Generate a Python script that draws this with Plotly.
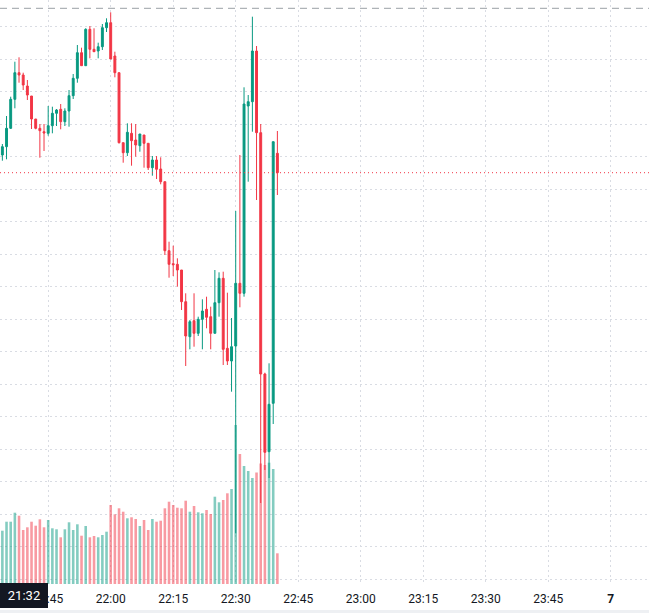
import plotly.graph_objects as go
import pandas as pd

# ---- data (1-minute candles) ----
start_time = "2025-03-06 21:34"
open_ = [94.50, 95.33, 97.17, 100.07, 102.73, 102.50, 101.40, 100.40, 98.10, 97.17,
         96.83, 96.67, 97.43, 98.67, 99.07, 97.83, 98.90, 100.43, 102.17, 104.73,
         103.43, 107.07, 105.07, 104.90, 105.33, 107.23, 107.73, 104.40, 102.73, 95.73,
         94.73, 96.67, 96.00, 95.43, 96.50, 95.67, 93.23, 94.00, 93.10, 91.83,
         84.93, 83.63, 83.57, 83.00, 79.83, 76.33, 77.93, 76.67, 78.07, 79.07,
         78.33, 76.67, 79.73, 82.17, 75.17, 73.90, 75.40, 81.67, 80.67, 99.40,
         99.83, 104.90, 96.73, 72.60, 64.83, 69.67, 94.67]
high = [95.60, 98.40, 100.33, 103.83, 104.27, 102.73, 102.00, 100.40, 98.10, 97.60,
        97.60, 99.40, 99.33, 99.10, 99.60, 99.17, 101.00, 102.60, 105.50, 105.23,
        107.17, 107.40, 107.17, 105.73, 107.60, 108.17, 108.77, 104.83, 102.73, 95.73,
        97.67, 97.67, 97.60, 96.60, 96.50, 95.67, 94.40, 94.40, 94.27, 91.83,
        85.83, 85.43, 84.17, 83.00, 80.67, 78.00, 80.67, 78.33, 80.07, 80.33,
        79.33, 83.00, 82.77, 82.83, 80.73, 78.20, 88.90, 94.50, 101.27, 100.50,
        108.33, 105.40, 97.60, 72.73, 73.67, 95.83, 96.90]
low = [93.93, 94.07, 97.10, 99.17, 101.73, 101.00, 100.00, 97.10, 97.07, 94.23,
       94.90, 96.43, 96.67, 97.40, 97.07, 97.40, 97.33, 100.10, 101.73, 103.43,
       103.40, 104.17, 104.80, 104.17, 105.00, 106.80, 104.10, 102.27, 95.65, 93.73,
       94.40, 93.43, 94.33, 94.83, 93.23, 93.00, 92.43, 92.10, 91.57, 84.50,
       82.23, 82.40, 81.33, 79.00, 73.40, 75.07, 75.33, 76.40, 75.07, 77.17,
       75.07, 76.67, 78.33, 73.50, 73.50, 70.83, 56.67, 79.27, 80.33, 91.83,
       96.83, 90.00, 59.70, 63.00, 62.20, 67.60, 90.50]
close = [95.33, 97.17, 100.07, 102.73, 102.50, 101.50, 100.50, 98.10, 97.17, 96.93,
         96.70, 97.43, 98.67, 99.00, 97.83, 98.90, 100.43, 102.17, 104.73, 103.43,
         107.07, 105.07, 104.83, 105.33, 107.23, 107.73, 104.10, 102.73, 95.73, 94.73,
         96.77, 95.93, 95.50, 96.60, 95.67, 93.23, 94.00, 93.07, 91.83, 84.93,
         83.57, 83.53, 83.00, 79.83, 76.40, 77.83, 76.67, 78.07, 78.90, 78.27,
         76.67, 79.73, 82.17, 75.07, 73.90, 75.33, 81.67, 80.67, 99.60, 99.83,
         104.90, 96.73, 72.60, 64.77, 69.57, 95.83, 92.73]
volume = [53.3, 62.3, 62.3, 71.3, 68.3, 54.0, 56.7, 62.3, 58.3, 64.7,
          56.7, 64.0, 55.7, 54.7, 46.7, 54.7, 61.7, 54.0, 59.7, 48.3,
          58.0, 46.7, 48.0, 46.7, 49.0, 52.3, 79.0, 69.7, 75.7, 72.3,
          65.7, 66.7, 65.0, 58.0, 64.0, 54.0, 65.0, 62.3, 63.3, 75.7,
          82.3, 79.0, 76.3, 75.7, 83.3, 72.3, 78.0, 71.7, 70.7, 74.0,
          70.0, 87.3, 81.7, 84.0, 90.7, 95.0, 159.0, 130.0, 118.0, 113.0,
          106.0, 111.5, 120.5, 119.0, 121.3, 115.0, 30.7]
ref_level = 109.17

tick_vals = ["2025-03-06 21:45", "2025-03-06 22:00", "2025-03-06 22:15", "2025-03-06 22:30",
             "2025-03-06 22:45", "2025-03-06 23:00", "2025-03-06 23:15", "2025-03-06 23:30",
             "2025-03-06 23:45", "2025-03-07 00:00"]
tick_text = ["21:45", "22:00", "22:15", "22:30", "22:45", "23:00", "23:15", "23:30", "23:45", "<b>7</b>"]
crosshair_label = "21:32"

UP = "#089981"
DOWN = "#F23645"
UP_VOL = "rgba(8,153,129,0.5)"
DOWN_VOL = "rgba(242,54,69,0.5)"
GRID = "#d9dce3"

times = pd.date_range(start_time, periods=len(open_), freq="1min")
vol_colors = [UP_VOL if c >= o else DOWN_VOL for o, c in zip(open_, close)]

fig = go.Figure()
fig.add_trace(go.Bar(
    x=times, y=volume, marker_color=vol_colors, marker_line_width=0,
    width=0.62 * 60000, yaxis="y", showlegend=False, hoverinfo="skip"))
fig.add_trace(go.Candlestick(
    x=times, open=open_, high=high, low=low, close=close, yaxis="y2",
    increasing=dict(line=dict(color=UP, width=1), fillcolor=UP),
    decreasing=dict(line=dict(color=DOWN, width=1), fillcolor=DOWN),
    whiskerwidth=0, showlegend=False))

fig.add_shape(type="line", xref="paper", x0=0, x1=1, yref="y2", y0=close[-1], y1=close[-1],
              line=dict(color=DOWN, width=1, dash="1px,3px"))
fig.add_shape(type="line", xref="paper", x0=0, x1=1, yref="y2", y0=ref_level, y1=ref_level,
              line=dict(color="#9aa0a6", width=1, dash="7px,5px"))
fig.add_shape(type="rect", xref="paper", x0=0, x1=1, yref="paper", y0=-0.0497, y1=-0.0445,
              fillcolor="#eef0f3", line_width=0, layer="above")

fig.add_annotation(xref="paper", yref="paper", x=0, y=0, xanchor="left", yanchor="top",
                   text=crosshair_label, showarrow=False, bgcolor="#131722",
                   font=dict(color="white", size=13, family="Roboto"),
                   width=46, height=23, borderpad=1, borderwidth=0, yshift=1)

fig.update_layout(
    width=649, height=613, margin=dict(l=0, r=0, t=0, b=29),
    paper_bgcolor="white", plot_bgcolor="white", boxgap=0.35,
    xaxis=dict(type="date", range=["2025-03-06 21:33:26", "2025-03-07 00:09:11"],
               tickmode="array", tickvals=tick_vals, ticktext=tick_text,
               showgrid=True, gridcolor=GRID, griddash="2px,3px", gridwidth=1,
               rangeslider=dict(visible=False), showline=False, zeroline=False,
               ticks="", ticklabelstandoff=6,
               tickfont=dict(size=12, color="#131722", family="Roboto")),
    yaxis=dict(range=[0, 584], visible=False, showgrid=False, fixedrange=True),
    yaxis2=dict(overlaying="y", range=[51.6, 110], showticklabels=False,
                tick0=107.33, dtick=3.25, showgrid=True, gridcolor=GRID,
                griddash="2px,3px", zeroline=False, showline=False, ticks=""),
)

fig.write_html("out.html", config={"displayModeBar": False})
